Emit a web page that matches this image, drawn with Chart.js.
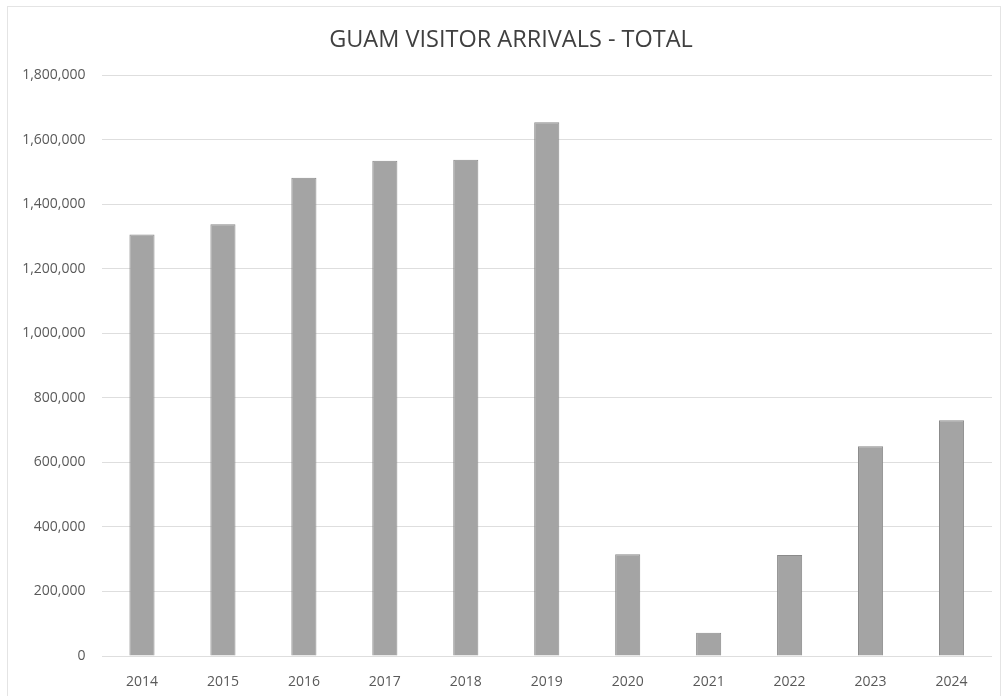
<!DOCTYPE html>
<html>
<head>
<meta charset="utf-8">
<title>Guam Visitor Arrivals</title>
<script src="https://cdn.jsdelivr.net/npm/chart.js@4.4.1/dist/chart.umd.min.js"></script>
<style>
  html, body { margin: 0; padding: 0; background: #fff; }
  #wrap { position: relative; width: 1005px; height: 696px; }
  #frame {
    position: absolute; left: 7px; top: 6px; right: 4px; bottom: -2px;
    border: 1px solid #e4e4e4; pointer-events: none;
  }
</style>
</head>
<body>
<div id="wrap">
  <canvas id="arrivals" width="1005" height="696"></canvas>
  <div id="frame"></div>
</div>
<script>
// annual totals
const years = ['2014', '2015', '2016', '2017', '2018', '2019', '2020', '2021', '2022', '2023', '2024'];
const arrivals = [1306000, 1338000, 1482000, 1535000, 1538000, 1654000, 315000, 72000, 313000, 650000, 731000];

const yMax = 1800000;
const yStep = 200000;

const ctx = document.getElementById('arrivals').getContext('2d');
const chart = new Chart(ctx, {
  type: 'bar',
  data: {
    labels: years,
    datasets: [{
      label: 'Total',
      data: arrivals,
      backgroundColor: '#a4a4a4',
      borderColor: '#8a8a8a',
      borderWidth: 1,
      barPercentage: 0.62,
      categoryPercentage: 0.5
    }]
  },
  options: {
    responsive: false,
    animation: { duration: 0 },
    layout: {
      padding: { left: 17, right: 0, top: 0, bottom: 0 }
    },
    plugins: {
      legend: { display: false },
      tooltip: { enabled: false },
      title: {
        display: true,
        text: 'GUAM VISITOR ARRIVALS - TOTAL',
        color: '#404040',
        font: { family: 'Open Sans', size: 23.5, weight: 'normal' },
        padding: { top: 26, bottom: 21 }
      }
    },
    scales: {
      x: {
        grid: { display: false, drawTicks: false },
        border: { display: false },
        ticks: {
          color: '#595959',
          font: { family: 'Open Sans', size: 14 },
          padding: 18
        },
        afterFit: (scale) => { scale.height = 40; }
      },
      y: {
        min: 0,
        max: yMax,
        grid: { color: '#dedede', drawTicks: false },
        border: { display: false },
        ticks: {
          stepSize: yStep,
          color: '#595959',
          font: { family: 'Open Sans', size: 14 },
          padding: 16,
          callback: (v) => v.toLocaleString('en-US')
        },
        afterFit: (scale) => { scale.width = 84.5; }
      },
      // empty right-hand margin
      gap: {
        position: 'right',
        display: true,
        grid: { display: false, drawTicks: false },
        border: { display: false },
        ticks: { display: false },
        afterFit: (scale) => { scale.width = 13; }
      }
    }
  }
});
</script>
</body>
</html>
